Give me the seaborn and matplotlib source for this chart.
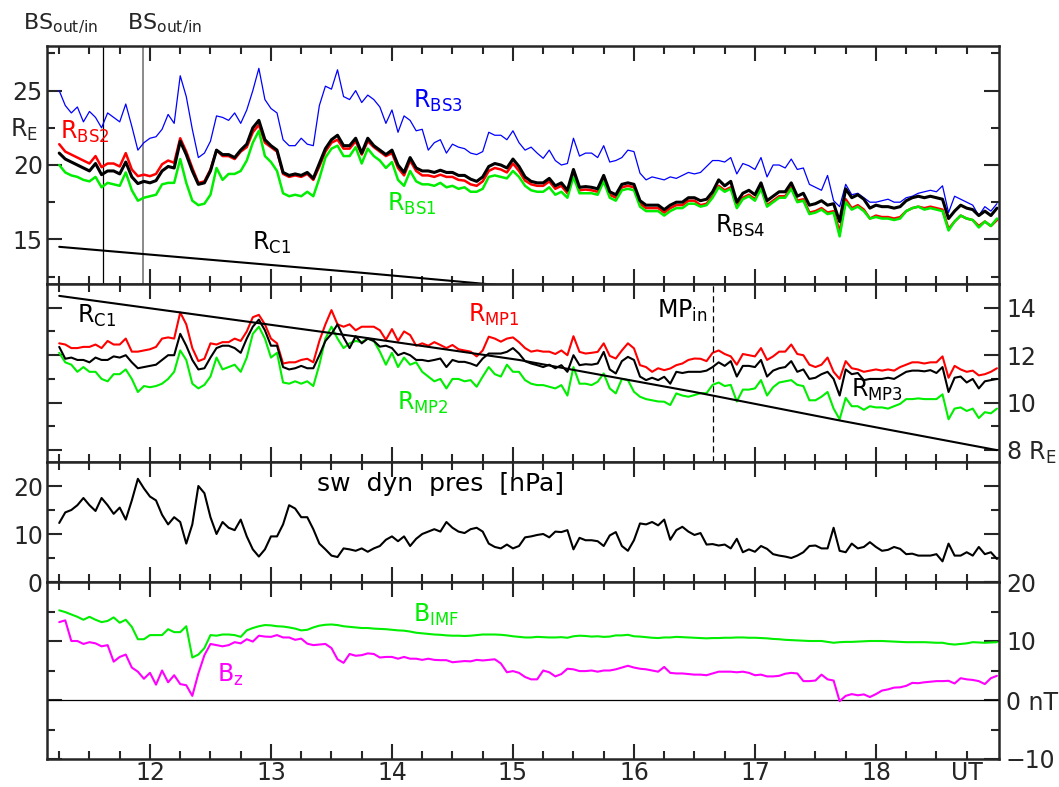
import numpy as np
import pandas as pd
import matplotlib
matplotlib.use("Agg")
import matplotlib.pyplot as plt
import seaborn as sns
from matplotlib.ticker import FixedLocator, FixedFormatter
from matplotlib import transforms

# ---------------------------------------------------------------- time axis
ut_start, ut_step, n_samples = 11.25, 0.05, 156
ut = np.round(ut_start + ut_step * np.arange(n_samples), 2)

# ---------------------------------------------------------------- bow shock distances [R_E]
r_bs3 = [25.0, 24.0, 23.5, 23.9, 22.9, 23.6, 23.2, 22.5, 23.5, 23.2,
         22.9, 24.1, 22.6, 21.0, 21.5, 21.8, 21.9, 22.4, 23.4, 22.8,
         26.0, 24.6, 22.4, 20.5, 20.8, 21.6, 23.3, 23.2, 23.0, 23.5,
         22.8, 23.7, 25.0, 26.5, 24.4, 23.8, 23.5, 21.7, 21.3, 21.3,
         21.8, 21.4, 21.3, 24.0, 25.3, 25.1, 26.4, 24.6, 24.4, 25.0,
         24.2, 24.7, 24.4, 23.9, 22.8, 23.7, 22.2, 23.3, 23.0, 22.3,
         22.4, 21.0, 21.5, 21.7, 20.8, 21.4, 21.2, 21.1, 20.8, 20.7,
         20.9, 22.2, 22.0, 22.0, 21.7, 22.3, 21.5, 21.0, 21.2, 20.8,
         20.45, 21.0, 20.3, 20.0, 20.1, 21.8, 20.6, 20.8, 20.8, 20.5,
         21.3, 20.2, 20.3, 20.5, 21.0, 20.9, 19.45, 19.0, 19.2, 19.1,
         19.0, 19.2, 19.1, 19.3, 19.5, 19.4,
         19.5, 19.9, 20.3, 20.3, 20.2, 20.5, 19.4, 20.1, 19.95, 19.7,
         20.5, 19.2, 20.0, 20.0, 19.8, 20.4, 19.7, 19.8, 18.7, 18.5,
         18.3, 19.3, 17.6, 17.2, 18.7, 18.0, 18.1, 17.8, 17.5, 17.5,
         17.6, 17.7, 17.5, 17.5, 17.8, 17.9, 18.1, 18.2, 18.3, 18.2,
         18.6, 16.8, 17.9, 17.7, 17.5, 17.3, 16.6, 17.2, 16.9, 17.4]

r_bs4 = [20.8, 20.4, 20.2, 20.0, 19.8, 19.6, 20.1, 19.35, 19.6, 19.6,
         19.4, 20.2, 19.2, 18.75, 18.9, 18.8, 18.95, 19.6, 19.9, 19.8,
         21.6, 20.7, 19.6, 18.7, 18.8, 19.6, 21.0, 20.7, 20.7, 20.5,
         21.0, 21.4, 22.5, 23.0, 21.7, 21.3, 21.0, 19.5, 19.3, 19.4,
         19.3, 19.5, 19.1, 20.1, 21.1, 21.7, 22.0, 21.3, 21.3, 21.8,
         20.8, 21.8, 21.3, 21.0, 20.7, 21.0, 20.0, 19.5, 20.5, 19.8,
         19.6, 19.6, 19.5, 19.65, 19.5, 19.5, 19.3, 19.3, 19.05, 18.9,
         19.2, 19.9, 20.1, 20.0, 19.8, 20.4, 19.9, 19.2, 18.9, 18.8,
         18.8, 19.1, 18.6, 18.8, 18.3, 19.7, 18.5, 18.55, 18.5, 18.4,
         19.3, 18.2, 18.0, 18.7, 18.8, 18.7, 17.6, 17.3, 17.3, 17.3,
         17.0, 17.3, 17.5, 17.5, 17.8, 17.8,
         17.6, 17.7, 18.2, 19.0, 18.6, 18.9, 17.5, 18.1, 18.3, 18.0,
         18.8, 17.6, 17.9, 18.2, 18.2, 18.8, 17.9, 18.1, 17.3, 17.4,
         17.6, 17.3, 17.4, 16.2, 18.4, 17.8, 18.0, 17.7, 17.1, 17.3,
         17.2, 17.2, 17.1, 17.2, 17.6, 17.8, 17.9, 17.8, 17.9, 17.8,
         17.7, 16.4, 16.9, 17.3, 17.1, 17.0, 16.6, 16.9, 16.6, 17.1]

r_bs2 = [21.4, 20.9, 20.7, 20.5, 20.3, 20.1, 20.6, 19.85, 20.1, 20.1,
         19.9, 20.8, 19.7, 19.25, 19.35, 19.25, 19.4, 20.05, 20.3, 20.15,
         21.8, 20.9, 19.8, 18.8, 18.9, 19.7, 21.0, 20.6, 20.6, 20.4,
         20.9, 21.2, 22.2, 22.7, 21.5, 21.2, 20.9, 19.4, 19.2, 19.3,
         19.2, 19.4, 19.0, 19.9, 20.9, 21.5, 21.7, 21.1, 21.1, 21.6,
         20.7, 21.6, 21.2, 20.9, 20.6, 20.8, 19.8, 19.3, 20.3, 19.6,
         19.3, 19.3, 19.2, 19.35, 19.2, 19.2, 19.0, 18.95, 18.7, 18.6,
         18.9, 19.6, 19.8, 19.7, 19.5, 20.1, 19.6, 18.95, 18.7, 18.6,
         18.6, 18.9, 18.4, 18.6, 18.1, 19.5, 18.3, 18.35, 18.3, 18.2,
         19.1, 18.0, 17.8, 18.5, 18.6, 18.5, 17.4, 17.1, 17.1, 17.1,
         16.8, 17.1, 17.3, 17.3, 17.6, 17.6,
         17.3, 17.4, 17.9, 18.6, 18.3, 18.5, 17.2, 17.8, 18.0, 17.7,
         18.5, 17.3, 17.6, 17.9, 17.9, 18.5, 17.6, 17.7, 16.8, 16.9,
         17.1, 16.8, 16.9, 15.5, 17.7, 17.1, 17.3, 17.0, 16.4, 16.6,
         16.5, 16.5, 16.4, 16.5, 16.9, 17.1, 17.2, 17.1, 17.2, 17.1,
         17.0, 15.7, 16.2, 16.6, 16.4, 16.3, 15.9, 16.2, 15.9, 16.3]

r_bs1 = [20.0, 19.5, 19.3, 19.2, 19.0, 18.9, 19.2, 18.5, 18.8, 18.7,
         18.6, 19.5, 18.3, 17.6, 17.8, 17.9, 18.0, 18.7, 18.8, 18.8,
         20.4, 18.8, 17.6, 17.3, 17.4, 18.0, 19.8, 19.0, 19.4, 19.4,
         19.6, 20.3, 21.5, 22.3, 20.6, 20.2, 19.6, 18.1, 17.9, 18.0,
         17.9, 18.2, 17.9, 19.1, 20.5, 21.1, 21.3, 20.6, 20.6, 21.2,
         20.1, 21.1, 20.6, 20.3, 19.8, 20.2, 19.0, 18.6, 19.6, 18.9,
         18.7, 18.7, 18.6, 18.8, 18.5, 18.6, 18.4, 18.5, 18.2, 18.2,
         18.4, 19.2, 19.3, 19.2, 19.1, 19.6, 19.2, 18.6, 18.3, 18.2,
         18.2, 18.5, 18.0, 18.2, 17.8, 19.2, 18.1, 18.1, 18.1, 18.0,
         18.9, 17.8, 17.6, 18.3, 18.4, 18.3, 17.2, 16.9, 16.9, 16.9,
         16.6, 16.9, 17.1, 17.1, 17.4, 17.4,
         17.2, 17.3, 17.8, 18.5, 18.2, 18.4, 17.1, 17.7, 17.9, 17.6,
         18.4, 17.2, 17.5, 17.8, 17.8, 18.4, 17.5, 17.6, 16.7, 16.8,
         17.0, 16.7, 16.8, 15.2, 17.5, 17.0, 17.2, 16.9, 16.4, 16.5,
         16.4, 16.4, 16.3, 16.4, 16.9, 17.1, 17.2, 17.0, 17.1, 17.0,
         16.9, 15.6, 16.2, 16.6, 16.4, 16.3, 15.8, 16.2, 15.9, 16.4]

# ---------------------------------------------------------------- magnetopause distances [R_E]
r_mp1 = [12.5, 12.45, 12.3, 12.3, 12.35, 12.35, 12.45, 12.3, 12.6, 12.45,
         12.45, 12.7, 12.15, 12.15, 12.2, 12.25, 12.35, 12.7, 12.75, 12.7,
         13.8, 13.3, 12.3, 11.75, 11.85, 12.5, 12.45, 12.55, 12.55, 12.7,
         12.6, 13.0, 13.6, 13.7, 13.3, 12.7, 12.5, 11.65, 11.7, 11.7,
         11.8, 11.85, 11.7, 12.6, 13.3, 13.9, 13.3, 13.2, 13.3, 13.05,
         13.2, 13.2, 13.2, 13.05, 12.65, 13.1, 12.6, 13.0, 12.85, 12.4,
         12.5, 12.4, 12.55, 12.43, 12.3, 12.43, 12.25, 12.2, 12.15, 11.95,
         12.2, 12.78, 12.7, 12.57, 12.7, 12.75, 12.55, 12.3, 12.15, 12.2,
         12.15, 12.15, 12.05, 12.2, 12.0, 12.8, 12.14, 12.07, 12.1, 12.14,
         12.5, 11.97, 11.86, 12.2, 12.5, 12.29, 11.58, 11.5, 11.3, 11.45,
         11.37, 11.44, 11.58, 11.65, 11.8, 11.86,
         11.85, 11.75, 12.1, 12.2, 12.05, 11.95, 11.6, 12.05, 12.0, 11.95,
         12.3, 11.8, 11.95, 12.15, 12.15, 12.45, 12.05, 12.0, 11.6, 11.5,
         11.6, 11.9, 11.3, 11.0, 11.75, 11.45, 11.4, 11.3, 11.35, 11.4,
         11.35, 11.4, 11.35, 11.5, 11.6, 11.7, 11.7, 11.65, 11.7, 11.7,
         11.95, 11.05, 11.55, 11.4, 11.3, 11.35, 11.15, 11.2, 11.3, 11.45]

r_mp3 = [12.35, 11.85, 11.9, 11.8, 11.8, 11.7, 11.9, 11.8, 11.8, 11.95,
         11.9, 12.0, 11.7, 11.45, 11.5, 11.55, 11.6, 11.8, 12.0, 12.0,
         12.9, 12.4, 11.8, 11.4, 11.45, 11.9, 12.3, 12.4, 12.4, 12.3,
         12.1, 12.7, 13.2, 13.5, 13.05, 12.4, 12.4, 11.5, 11.4, 11.45,
         11.55, 11.45, 11.45, 12.0, 12.6, 12.9, 13.3, 12.75, 12.3, 12.8,
         12.5, 12.7, 12.6, 12.36, 12.4, 12.3, 12.0, 12.1, 12.0, 11.8,
         11.8, 11.75, 11.8, 11.86, 11.5, 11.8, 11.72, 11.72, 11.65, 11.55,
         11.86, 12.07, 12.07, 12.07, 12.14, 12.3, 12.07, 11.75, 11.65, 11.58,
         11.5, 11.6, 11.45, 11.58, 11.3, 12.0, 11.58, 11.62, 11.6, 11.65,
         12.14, 11.4, 11.23, 11.75, 11.93, 11.8, 11.1, 10.95, 11.05, 10.95,
         11.09, 10.8, 11.3, 11.25, 11.3, 11.3,
         11.3, 11.35, 11.5, 11.7, 11.55, 11.75, 11.1, 11.55, 11.55, 11.5,
         11.8, 11.1, 11.35, 11.45, 11.5, 11.75, 11.3, 11.4, 11.0, 11.05,
         11.2, 11.3, 11.0, 10.3, 11.4, 11.2, 11.25, 10.95, 11.0, 11.0,
         11.0, 11.05, 11.0, 11.15, 11.3, 11.35, 11.35, 11.32, 11.37, 11.25,
         11.5, 10.45, 11.05, 11.1, 10.85, 11.0, 10.6, 10.9, 10.95, 11.0]

r_mp2 = [12.1, 11.7, 11.6, 11.3, 11.5, 11.3, 11.3, 11.0, 10.9, 11.2,
         11.2, 11.4, 11.0, 10.45, 10.7, 10.65, 10.7, 10.8, 11.0, 11.3,
         12.2, 11.8, 10.8, 10.6, 10.75, 11.1, 11.9, 11.4, 11.5, 11.6,
         11.3, 11.9, 12.9, 13.2, 12.7, 11.9, 12.1, 10.85, 10.8, 10.9,
         10.8, 10.9, 10.7, 11.6, 12.7, 13.2, 12.7, 12.3, 12.5, 12.6,
         12.55, 12.7, 12.6, 12.15, 11.6, 12.1, 11.5, 11.9, 11.6, 11.7,
         11.3, 11.1, 10.9, 11.0, 10.6, 11.0, 11.0, 10.9, 10.95, 10.67,
         11.1, 11.5, 11.2, 11.1, 11.6, 11.3, 11.3, 10.95, 10.8, 10.74,
         10.74, 10.67, 10.6, 10.74, 10.3, 11.5, 10.8, 10.8, 10.74, 10.88,
         11.23, 10.6, 10.39, 11.0, 10.95, 10.46, 10.25, 10.15, 10.1, 10.05,
         10.04, 9.9, 10.39, 10.3, 10.25, 10.32,
         10.4, 10.4, 10.75, 10.85, 10.7, 10.75, 10.05, 10.55, 10.55, 10.6,
         10.95, 10.3, 10.65, 10.85, 10.9, 10.95, 10.75, 10.7, 10.1, 10.1,
         10.25, 10.45, 9.75, 9.3, 10.2, 9.85, 9.85, 9.7, 9.85, 9.8,
         9.8, 9.75, 9.85, 9.95, 10.15, 10.15, 10.18, 10.15, 10.15, 10.15,
         10.35, 9.3, 9.75, 9.8, 9.65, 9.75, 9.35, 9.6, 9.55, 9.75]

# subsolar distance R_C1 [R_E]
rc1_ut = [11.25, 13.73, 15.05, 16.5, 17.7, 19.0]
rc1_re = [14.5, 12.77, 11.8, 10.45, 9.25, 8.0]

# ---------------------------------------------------------------- solar wind dynamic pressure [nPa]
p_dyn = [12.3, 14.5, 15.0, 16.0, 17.5, 16.0, 14.8, 17.5, 16.0, 14.2,
         15.5, 13.0, 17.0, 21.5, 19.5, 17.8, 17.0, 14.0, 12.0, 13.5,
         12.5, 8.0, 12.0, 20.0, 18.5, 13.5, 10.0, 12.5, 11.3, 10.8,
         13.0, 9.5, 6.8, 5.3, 6.8, 9.5, 9.5, 12.0, 16.0, 15.3,
         13.5, 13.5, 11.0, 8.0, 6.8, 5.5, 5.2, 7.0, 6.8, 6.5,
         7.0, 6.3, 7.0, 7.5, 8.8, 9.5, 8.5, 9.5, 7.5, 9.0,
         10.0, 10.5, 11.0, 10.5, 12.5, 11.3, 10.5, 10.2, 11.0, 11.3,
         10.5, 8.0, 7.3, 7.0, 7.8, 7.0, 7.5, 9.3, 9.5,
         9.8, 10.0, 9.3, 10.5, 10.4, 10.8, 6.8, 9.2, 8.7, 8.7,
         8.5, 7.5, 9.7, 10.4, 7.5, 6.5, 8.7, 12.2, 12.0, 12.5,
         11.8, 13.0, 8.8, 10.8, 11.5, 10.5, 9.8, 10.2, 7.8, 7.9,
         7.6, 7.8, 7.0, 9.0, 6.2, 6.8, 6.3, 7.5, 6.9, 5.8,
         5.5, 5.3, 5.0, 5.5, 6.2, 7.5, 7.6, 7.0, 7.0, 11.3,
         6.5, 6.2, 8.0, 7.0, 7.3, 8.3, 7.3, 6.5, 6.7, 7.3,
         6.9, 5.8, 5.9, 5.5, 5.5, 5.5, 5.8, 4.3, 8.0, 5.5,
         5.5, 6.2, 5.5, 7.3, 5.8, 6.2, 4.8]

# ---------------------------------------------------------------- IMF [nT]
b_imf = [15.2, 14.9, 14.5, 14.1, 13.6, 14.1, 13.6, 13.2, 13.4, 14.0,
         13.1, 13.6, 12.4, 10.3, 10.3, 11.0, 11.0, 11.0, 12.0, 11.5,
         11.5, 12.5, 7.2, 7.7, 8.8, 11.0, 10.9, 11.1, 11.1, 11.0,
         10.7, 11.8, 12.2, 12.5, 12.7, 12.65, 12.5, 12.45, 12.3, 12.1,
         11.8, 11.9, 12.3, 12.6, 12.75, 12.8, 12.7, 12.5, 12.4, 12.3,
         12.2, 12.2, 12.1, 12.05, 12.0, 11.9, 11.8, 11.75, 11.6, 11.4,
         11.3, 11.2, 11.1, 11.05, 10.95, 10.9, 10.9, 10.85, 10.9, 11.0,
         11.1, 11.1, 11.1, 11.05, 10.95, 10.8, 10.7, 10.6, 10.6,
         10.7, 10.65, 10.6, 10.6, 10.65, 10.55, 10.8, 10.9, 10.85, 10.75,
         10.8, 10.7, 10.75, 10.95, 10.95, 11.05, 10.8, 10.75, 10.65, 10.55,
         10.5, 10.6, 10.6, 10.7, 10.65, 10.6, 10.55, 10.5, 10.45, 10.5,
         10.5, 10.55, 10.55, 10.6, 10.6, 10.55, 10.55, 10.5, 10.45, 10.35,
         10.3, 10.2, 10.15, 10.1, 10.05, 10.0, 10.0, 10.0, 9.85, 9.7,
         9.8, 9.85, 9.85, 9.9, 9.95, 10.0, 10.0, 10.0, 9.95, 9.9,
         9.85, 9.8, 9.8, 9.8, 9.8, 9.75, 9.7, 9.7, 9.5, 9.4,
         9.5, 9.6, 9.8, 9.75, 9.7, 9.75, 9.8]

b_z = [13.2, 13.5, 10.0, 10.0, 9.5, 9.8, 9.6, 9.1, 9.3, 6.5,
       7.3, 7.7, 5.5, 4.8, 3.6, 4.6, 2.6, 5.0, 3.0, 4.2,
       2.7, 2.5, 0.7, 4.5, 7.6, 9.5, 9.3, 9.1, 9.3, 9.8,
       9.6, 10.3, 9.9, 10.9, 10.75, 10.7, 11.0, 10.6, 10.6, 10.2,
       10.4, 9.55, 9.3, 9.4, 9.5, 8.8, 6.9, 6.3, 7.8, 7.5,
       7.6, 7.9, 7.8, 7.2, 7.3, 7.3, 7.0, 7.3, 7.0, 7.0,
       6.8, 7.0, 6.8, 6.75, 6.75, 6.4, 6.5, 6.6, 6.55, 6.8,
       6.7, 6.8, 6.9, 6.2, 4.7, 4.9, 4.6, 3.9, 3.5,
       3.5, 5.0, 4.7, 4.0, 4.4, 5.3, 5.2, 4.9, 4.9, 5.0,
       4.8, 5.0, 5.0, 5.2, 5.5, 5.8, 5.5, 5.3, 5.2, 5.0,
       4.8, 5.6, 4.6, 4.5, 4.5, 4.4, 4.3, 4.3, 4.2, 4.5,
       4.8, 4.8, 4.8, 4.7, 4.8, 4.6, 4.2, 4.3, 4.0, 4.0,
       4.1, 4.45, 4.6, 4.5, 3.2, 3.2, 3.3, 4.3, 3.5, 3.3,
       -0.2, 0.7, 1.0, 0.8, 0.95, 0.5, 1.0, 1.6, 1.8, 2.1,
       2.15, 2.4, 2.9, 2.85, 3.0, 3.1, 3.2, 3.2, 3.25, 2.8,
       3.7, 3.5, 3.4, 3.2, 2.7, 3.7, 4.1]

# ---------------------------------------------------------------- event markers (UT)
bs_crossings = [11.61, 11.94]
mp_inbound = 16.65

hour_ticks = [12, 13, 14, 15, 16, 17, 18]
hour_labels = ["12", "13", "14", "15", "16", "17", "18"]

# ---------------------------------------------------------------- tables
bs = pd.DataFrame({"ut": ut, "r_bs1": r_bs1, "r_bs2": r_bs2,
                   "r_bs3": r_bs3, "r_bs4": r_bs4})
mp = pd.DataFrame({"ut": ut, "r_mp1": r_mp1, "r_mp2": r_mp2, "r_mp3": r_mp3})
sw = pd.DataFrame({"ut": ut, "p_dyn": p_dyn, "b_imf": b_imf, "b_z": b_z})
rc = pd.DataFrame({"ut": rc1_ut, "r_c1": rc1_re})

# ---------------------------------------------------------------- style
sns.set_style("ticks")
plt.rcParams["font.family"] = ["DejaVu Sans"]
plt.rcParams["mathtext.default"] = "regular"
FS = 17
RED, GREEN, BLUE, MAG = "#ff0000", "#00ee00", "#0000ff", "#ff00ff"

fig = plt.figure(figsize=(10.59, 7.87), dpi=100)
FW, FH = 1059.0, 787.0
LEFT, RIGHT = 47, 999


def panel(top_px, bottom_px):
    return fig.add_axes([LEFT / FW, 1 - bottom_px / FH,
                         (RIGHT - LEFT) / FW, (bottom_px - top_px) / FH])


ax1 = panel(46, 284)
ax2 = panel(284, 462)
ax3 = panel(462, 582)
ax4 = panel(582, 759)
axes = [ax1, ax2, ax3, ax4]

quarter = [h / 4 for h in range(45, 76) if h % 4 != 0]


def line(ax, df, col, color, lw, **kw):
    sns.lineplot(data=df, x="ut", y=col, ax=ax, color=color, linewidth=lw,
                 estimator=None, sort=False, legend=False, **kw)


# panel 1: bow shock
ax1.axvline(bs_crossings[0], color="black", lw=0.9, zorder=1)
ax1.axvline(bs_crossings[1], color="#777777", lw=1.2, zorder=1)
line(ax1, bs, "r_bs3", BLUE, 0.9)
line(ax1, bs, "r_bs2", RED, 1.8)
line(ax1, bs, "r_bs1", GREEN, 1.8)
line(ax1, bs, "r_bs4", "black", 2.2)
line(ax1, rc, "r_c1", "black", 1.5)
ax1.set_ylim(12, 28)

# panel 2: magnetopause
line(ax2, mp, "r_mp1", RED, 1.5)
line(ax2, mp, "r_mp2", GREEN, 1.5)
line(ax2, mp, "r_mp3", "black", 1.5)
line(ax2, rc, "r_c1", "black", 1.5)
ax2.axvline(mp_inbound, color="black", lw=0.9, ls=(0, (5, 3)))
ax2.set_ylim(7.5, 15)

# panel 3: dynamic pressure
line(ax3, sw, "p_dyn", "black", 1.5)
ax3.set_ylim(0, 25)

# panel 4: IMF
ax4.axhline(0, color="black", lw=0.9)
line(ax4, sw, "b_imf", GREEN, 1.5)
line(ax4, sw, "b_z", MAG, 1.5)
ax4.set_ylim(-10, 20)

for ax in axes:
    ax.set_xlim(11.149, 19.017)
    ax.set_xlabel("")
    ax.set_ylabel("")
    ax.xaxis.set_major_locator(FixedLocator(hour_ticks))
    ax.xaxis.set_minor_locator(FixedLocator(quarter))
    ax.tick_params(axis="both", which="both", direction="in",
                   top=True, bottom=True, left=True, right=True,
                   width=1.5, labelsize=FS, labelbottom=False,
                   labelleft=False, labelright=False)
    ax.tick_params(which="major", length=11)
    ax.tick_params(which="minor", length=6)
    for s in ax.spines.values():
        s.set_linewidth(1.8)
        s.set_visible(True)

# y ticks per panel
ax1.yaxis.set_major_locator(FixedLocator([15, 20, 25]))
ax1.yaxis.set_major_formatter(FixedFormatter(["15", "20", "25"]))
ax1.yaxis.set_minor_locator(FixedLocator([12.5, 17.5, 22.5, 27.5]))
ax1.tick_params(axis="y", labelleft=True, pad=3)

ax2.yaxis.set_major_locator(FixedLocator([8, 10, 12, 14]))
ax2.yaxis.set_major_formatter(FixedFormatter(["8 R$_E$", "10", "12", "14"]))
ax2.yaxis.set_minor_locator(FixedLocator([9, 11, 13]))
ax2.tick_params(axis="y", labelright=True, pad=5)

ax3.yaxis.set_major_locator(FixedLocator([0, 10, 20]))
ax3.yaxis.set_major_formatter(FixedFormatter(["0", "10", "20"]))
ax3.yaxis.set_minor_locator(FixedLocator([5, 15]))
ax3.tick_params(axis="y", labelleft=True, pad=3)

ax4.yaxis.set_major_locator(FixedLocator([-10, 0, 10, 20]))
ax4.yaxis.set_major_formatter(FixedFormatter(["\u221210", "0 nT", "10", "20"]))
ax4.yaxis.set_minor_locator(FixedLocator([-5, 5, 15]))
ax4.tick_params(axis="y", labelright=True, pad=5)

ax4.xaxis.set_major_formatter(FixedFormatter(hour_labels))
ax4.tick_params(axis="x", labelbottom=True, pad=1.5)
ax4.annotate("UT", xy=(18.75, 0), xycoords=("data", "axes fraction"),
             xytext=(0, -1.5), textcoords="offset points",
             ha="center", va="top", fontsize=FS)

# ---------------------------------------------------------------- annotations
kw = dict(fontsize=FS, ha="left", va="baseline")
ax1.text(14.17, 23.84, "R$_{BS3}$", color=BLUE, **kw)
ax1.text(11.26, 21.75, "R$_{BS2}$", color=RED, **kw)
ax1.text(13.96, 16.9, "R$_{BS1}$", color=GREEN, **kw)
ax1.text(16.67, 15.45, "R$_{BS4}$", color="black", **kw)
ax1.text(12.84, 14.3, "R$_{C1}$", color="black", **kw)
ax1.text(-0.039, 21.9, "R$_E$", transform=transforms.blended_transform_factory(
    ax1.transAxes, ax1.transData), **kw)

ax2.text(11.40, 13.35, "R$_{C1}$", color="black", **kw)
ax2.text(14.63, 13.4, "R$_{MP1}$", color=RED, **kw)
ax2.text(14.04, 9.68, "R$_{MP2}$", color=GREEN, **kw)
ax2.text(16.19, 13.57, "MP$_{in}$", color="black", **kw)
ax2.text(17.79, 10.23, "R$_{MP3}$", color="black", **kw)

ax3.text(13.38, 18.9, "sw  dyn  pres  [nPa]", color="black", fontsize=18,
         ha="left", va="baseline")

ax4.text(14.17, 13.2, "B$_{IMF}$", color=GREEN, **kw)
ax4.text(12.55, 3.1, "B$_z$", color=MAG, **kw)

fig.text(23 / FW, 1 - 29 / FH, "BS$_{out/in}$", fontsize=16, ha="left", va="baseline")
fig.text(127 / FW, 1 - 29 / FH, "BS$_{out/in}$", fontsize=16, ha="left", va="baseline")

fig.savefig("out.png", dpi=100)
